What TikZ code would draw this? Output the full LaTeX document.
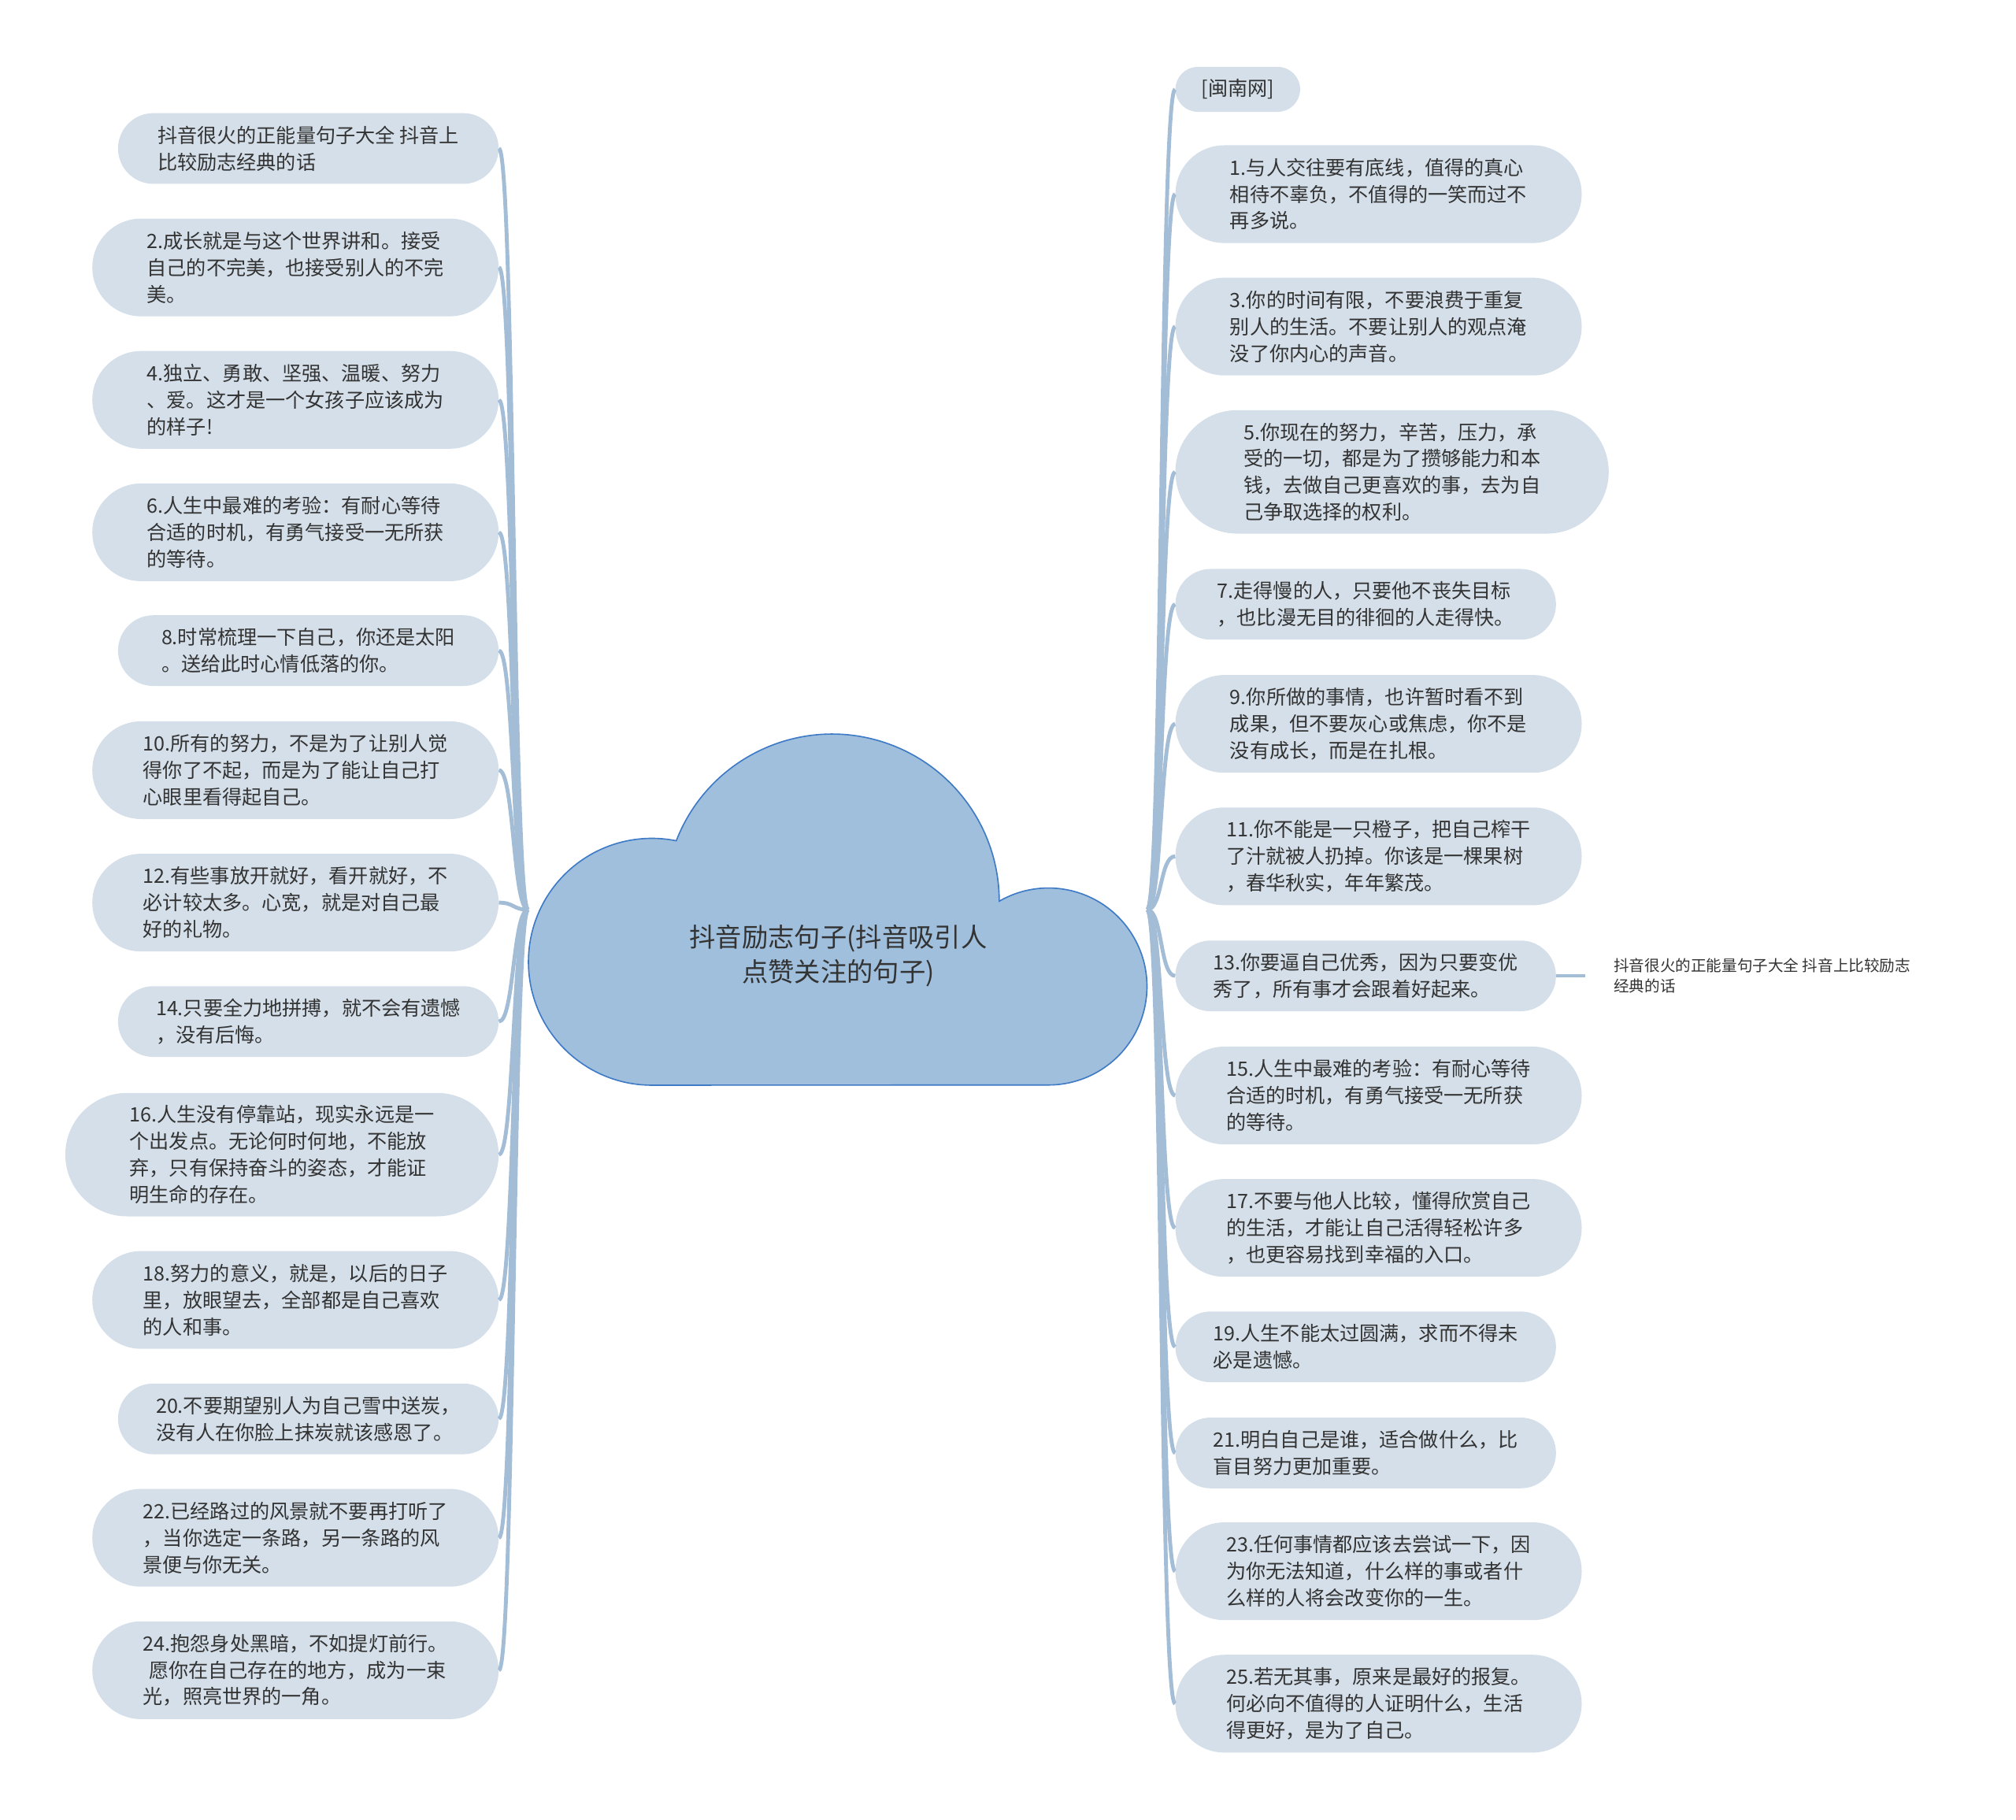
\documentclass[tikz,border=0pt]{standalone}
\usepackage{fontspec}
\newfontfamily\cjk{Noto Sans CJK SC}
\usepackage{xcolor}
\definecolor{linkcol}{HTML}{A3BDD7}
\definecolor{boxcol}{HTML}{D4DFE9}
\definecolor{cloudcol}{HTML}{9FBFDC}
\definecolor{cloudline}{HTML}{3E7AC6}
\definecolor{txtcol}{HTML}{333333}
\usetikzlibrary{shapes.misc}

\begin{document}
\begin{tikzpicture}[x=1pt,y=1pt,
  item/.style={rounded rectangle,fill=boxcol,text=txtcol,align=left,inner sep=0pt,
    font=\cjk\fontsize{15.4}{20.7}\selectfont},
  lbox/.style={item,anchor=east},
  rbox/.style={item,anchor=west},
  one/.style={minimum width=97pt,minimum height=35pt},
  two/.style={minimum width=296pt,minimum height=55pt},
  three/.style={minimum width=316pt,minimum height=76pt},
  four/.style={minimum width=337pt,minimum height=96pt},
  branch/.style={draw=linkcol,line width=3pt},
  twig/.style={draw=linkcol,line width=2.2pt},
  leaf/.style={anchor=west,align=left,text=txtcol,inner xsep=22pt,inner ysep=0pt,
    font=\cjk\fontsize{12}{16}\selectfont},
  rootbox/.style={minimum width=481pt,minimum height=275pt,inner sep=0pt},
  roottxt/.style={align=center,text=txtcol,font=\cjk\fontsize{20.4}{27}\selectfont}]
  \useasboundingbox (0,0) rectangle (1568,-1415);

  % ---------- root : cloud -----------------------------------------
  \node[rootbox] (root) at (651.5,-707.5) {};

  % ---------- left column -------------------------------------------
  \node[lbox,two]   (ltitle) at (388,-115.5) {抖音很火的正能量句子大全 抖音上\\比较励志经典的话};
  \node[lbox,three] (l2)  at (388,-208)  {2.成长就是与这个世界讲和。接受\\自己的不完美，也接受别人的不完\\美。};
  \node[lbox,three] (l4)  at (388,-311)  {4.独立、勇敢、坚强、温暖、努力\\、爱。这才是一个女孩子应该成为\\的样子!};
  \node[lbox,three] (l6)  at (388,-414)  {6.人生中最难的考验：有耐心等待\\合适的时机，有勇气接受一无所获\\的等待。};
  \node[lbox,two]   (l8)  at (388,-506)  {8.时常梳理一下自己，你还是太阳\\。送给此时心情低落的你。};
  \node[lbox,three] (l10) at (388,-599)  {10.所有的努力，不是为了让别人觉\\得你了不起，而是为了能让自己打\\心眼里看得起自己。};
  \node[lbox,three] (l12) at (388,-702)  {12.有些事放开就好，看开就好，不\\必计较太多。心宽，就是对自己最\\好的礼物。};
  \node[lbox,two]   (l14) at (388,-794.5) {14.只要全力地拼搏，就不会有遗憾\\，没有后悔。};
  \node[lbox,four]  (l16) at (388,-898)  {16.人生没有停靠站，现实永远是一\\个出发点。无论何时何地，不能放\\弃，只有保持奋斗的姿态，才能证\\明生命的存在。};
  \node[lbox,three] (l18) at (388,-1011) {18.努力的意义，就是，以后的日子\\里，放眼望去，全部都是自己喜欢\\的人和事。};
  \node[lbox,two]   (l20) at (388,-1103.5) {20.不要期望别人为自己雪中送炭，\\没有人在你脸上抹炭就该感恩了。};
  \node[lbox,three] (l22) at (388,-1196) {22.已经路过的风景就不要再打听了\\，当你选定一条路，另一条路的风\\景便与你无关。};
  \node[lbox,three] (l24) at (388,-1299) {24.抱怨身处黑暗，不如提灯前行。\\\hspace*{.3em}愿你在自己存在的地方，成为一束\\光，照亮世界的一角。};

  % ---------- right column ------------------------------------------
  \node[rbox,one]   (rsrc) at (914,-69.5) {[闽南网]};
  \node[rbox,three] (r1)  at (914,-151)  {1.与人交往要有底线，值得的真心\\相待不辜负，不值得的一笑而过不\\再多说。};
  \node[rbox,three] (r3)  at (914,-254)  {3.你的时间有限，不要浪费于重复\\别人的生活。不要让别人的观点淹\\没了你内心的声音。};
  \node[rbox,four]  (r5)  at (914,-367)  {5.你现在的努力，辛苦，压力，承\\受的一切，都是为了攒够能力和本\\钱，去做自己更喜欢的事，去为自\\己争取选择的权利。};
  \node[rbox,two]   (r7)  at (914,-470)  {7.走得慢的人，只要他不丧失目标\\，也比漫无目的徘徊的人走得快。};
  \node[rbox,three] (r9)  at (914,-563)  {9.你所做的事情，也许暂时看不到\\成果，但不要灰心或焦虑，你不是\\没有成长，而是在扎根。};
  \node[rbox,three] (r11) at (914,-666)  {11.你不能是一只橙子，把自己榨干\\了汁就被人扔掉。你该是一棵果树\\，春华秋实，年年繁茂。};
  \node[rbox,two]   (r13) at (914,-759)  {13.你要逼自己优秀，因为只要变优\\秀了，所有事才会跟着好起来。};
  \node[rbox,three] (r15) at (914,-852)  {15.人生中最难的考验：有耐心等待\\合适的时机，有勇气接受一无所获\\的等待。};
  \node[rbox,three] (r17) at (914,-955)  {17.不要与他人比较，懂得欣赏自己\\的生活，才能让自己活得轻松许多\\，也更容易找到幸福的入口。};
  \node[rbox,two]   (r19) at (914,-1047.5) {19.人生不能太过圆满，求而不得未\\必是遗憾。};
  \node[rbox,two]   (r21) at (914,-1130) {21.明白自己是谁，适合做什么，比\\盲目努力更加重要。};
  \node[rbox,three] (r23) at (914,-1222) {23.任何事情都应该去尝试一下，因\\为你无法知道，什么样的事或者什\\么样的人将会改变你的一生。};
  \node[rbox,three] (r25) at (914,-1325) {25.若无其事，原来是最好的报复。\\何必向不值得的人证明什么，生活\\得更好，是为了自己。};
  \node[leaf] (r13leaf) at (1233,-759) {抖音很火的正能量句子大全 抖音上比较励志\\经典的话};

  % ---------- connectors --------------------------------------------
  \draw[branch] (root.west) .. controls +(-12,0) and +(12,0) .. (ltitle.east);
  \foreach \i in {2,4,...,24}
    \draw[branch] (root.west) .. controls +(-12,0) and +(12,0) .. (l\i.east);
  \draw[branch] (root.east) .. controls +(12,0) and +(-12,0) .. (rsrc.west);
  \foreach \i in {1,3,...,25}
    \draw[branch] (root.east) .. controls +(12,0) and +(-12,0) .. (r\i.west);
  \draw[twig] (r13.east) -- (r13leaf.west);

  % cloud outline: three arcs and a flat base
  \draw[draw=cloudline,fill=cloudcol,line width=1pt]
    (507,-844) arc[start angle=270,end angle=78.6,radius=96]
    arc[start angle=158.8,end angle=0,radius=130]
    arc[start angle=120,end angle=-90,radius=76.6] -- cycle;
  \node[roottxt] (title) at (652,-743.5) {抖音励志句子(抖音吸引人\\点赞关注的句子)};
\end{tikzpicture}
\end{document}
